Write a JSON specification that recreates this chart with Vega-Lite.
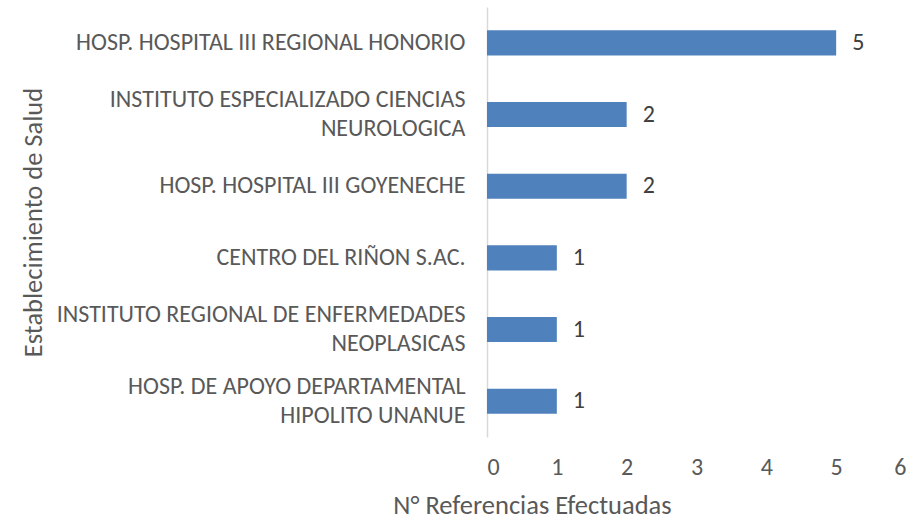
{
  "$schema": "https://vega.github.io/schema/vega-lite/v6.json",
  "width": 419,
  "height": 430,
  "autosize": "none",
  "padding": {"left": 487, "top": 7, "right": 10, "bottom": 83},
  "background": "white",
  "config": {"view": {"stroke": null}, "font": "Carlito, Lato"},
  "data": {"values": [
    {"est": "HOSP. HOSPITAL III REGIONAL HONORIO", "n": 5},
    {"est": "INSTITUTO ESPECIALIZADO CIENCIAS|NEUROLOGICA", "n": 2},
    {"est": "HOSP. HOSPITAL III GOYENECHE", "n": 2},
    {"est": "CENTRO DEL RIÑON S.AC.", "n": 1},
    {"est": "INSTITUTO REGIONAL DE ENFERMEDADES|NEOPLASICAS", "n": 1},
    {"est": "HOSP. DE APOYO DEPARTAMENTAL|HIPOLITO UNANUE", "n": 1}
  ]},
  "encoding": {
    "y": {
      "field": "est", "type": "nominal", "sort": null,
      "scale": {"paddingInner": 0.65, "paddingOuter": 0.325},
      "axis": {
        "title": "Establecimiento de Salud",
        "titleFont": "Carlito, Lato", "titleFontSize": 26.5, "titleFontWeight": "normal", "titleColor": "#595959",
        "titleX": -454, "titleY": 215, "titleAngle": -90, "titleAlign": "center", "titleBaseline": "middle",
        "labelExpr": "split(datum.label, '|')",
        "labelOffset": {"condition": {"test": "indexof(datum.value, '|') >= 0", "value": -14.5}, "value": 0},
        "labelFont": "Carlito, Lato", "labelFontSize": 24, "labelColor": "#595959",
        "labelLineHeight": 29, "labelLimit": 500, "labelPadding": 22,
        "ticks": false, "domainColor": "#D9D9D9", "domainWidth": 1.5
      }
    },
    "x": {
      "field": "n", "type": "quantitative",
      "scale": {"domain": [0, 6]},
      "axis": {
        "title": "N° Referencias  Efectuadas",
        "titleFont": "Carlito, Lato", "titleFontSize": 26.5, "titleFontWeight": "normal", "titleColor": "#595959",
        "titleX": 45, "titleY": 68, "titleAlign": "center", "titleBaseline": "middle",
        "values": [0, 1, 2, 3, 4, 5, 6], "format": "d",
        "labelFont": "Carlito, Lato", "labelFontSize": 24, "labelColor": "#595959", "labelPadding": 18,
        "domain": false, "ticks": false, "grid": false
      }
    }
  },
  "layer": [
    {"mark": {"type": "bar", "color": "#4F81BD"}},
    {"mark": {"type": "text", "align": "left", "dx": 16, "fontSize": 24, "color": "#404040", "font": "Carlito, Lato"},
     "encoding": {"text": {"field": "n", "type": "quantitative"}}}
  ]
}
